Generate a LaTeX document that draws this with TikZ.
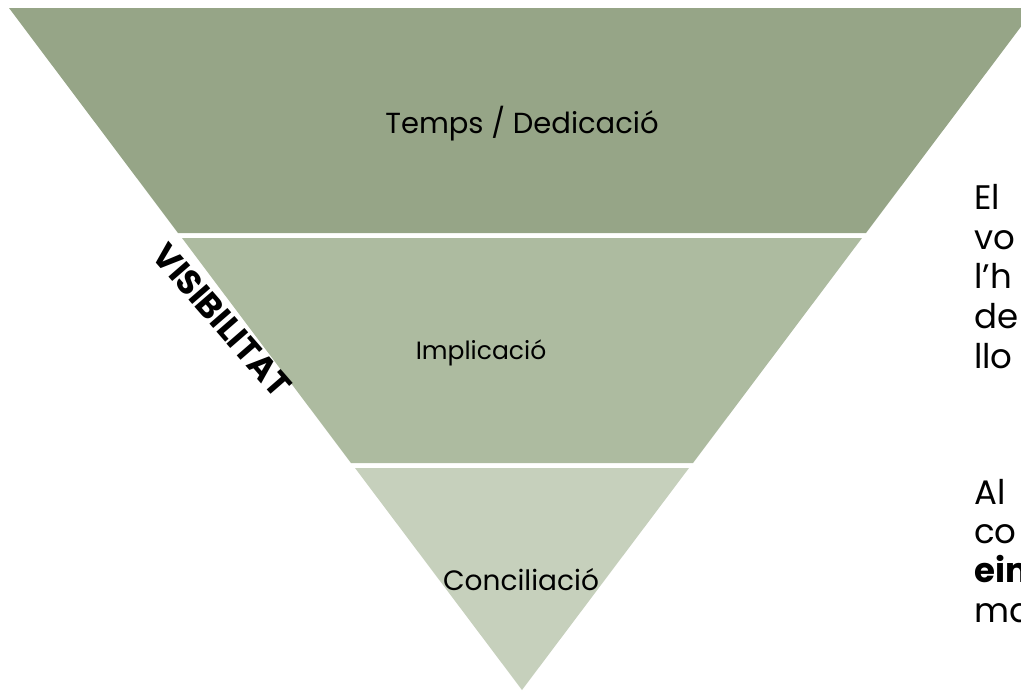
\documentclass[tikz,border=0pt]{standalone}
\usepackage{fontspec}
\setmainfont{Poppins}
\definecolor{bandA}{RGB}{150,165,135}
\definecolor{bandB}{RGB}{173,187,160}
\definecolor{bandC}{RGB}{198,208,188}
\begin{document}
\begin{tikzpicture}[x=1pt,y=-1pt,
  lbl/.style={text=black, inner sep=0pt},
  side/.style={anchor=base west, font=\fontsize{34}{40}\selectfont, inner sep=0pt},
  vis/.style={font=\fontsize{34}{40}\selectfont\bfseries, rotate=-49, inner sep=0pt}]
\useasboundingbox (0,0) rectangle (1021,691);
\clip (0,0) rectangle (1021,691);
\fill[bandA] (9,8) -- (1035,8) -- (866,233) -- (178,233) -- cycle;
\fill[bandB] (182,238) -- (862,238) -- (693,463) -- (351,463) -- cycle;
\fill[bandC] (355,468) -- (689,468) -- (522,690) -- cycle;
\node[lbl, font=\fontsize{29}{34}\selectfont] (t1) at (522,124) {Temps / Dedicació};
\node[lbl, font=\fontsize{25}{30}\selectfont] (t2) at (481,353) {Implicació};
\node[lbl, font=\fontsize{28}{33}\selectfont] (t3) at (521,580) {Conciliació};
\node[vis] (v) at (222,320) {VISIBILITAT};
\node[side] (r1) at (974,209) {El};
\node[side] (r2) at (974,249) {vo};
\node[side] (r3) at (974,288) {l'h};
\node[side] (r4) at (974,328) {de};
\node[side] (r5) at (974,368) {llo};
\node[side] (r6) at (974,504) {Al};
\node[side] (r7) at (974,543) {co};
\node[side] (r8) at (974,582) {\bfseries ein};
\node[side] (r9) at (974,622) {ma};
\end{tikzpicture}
\end{document}
